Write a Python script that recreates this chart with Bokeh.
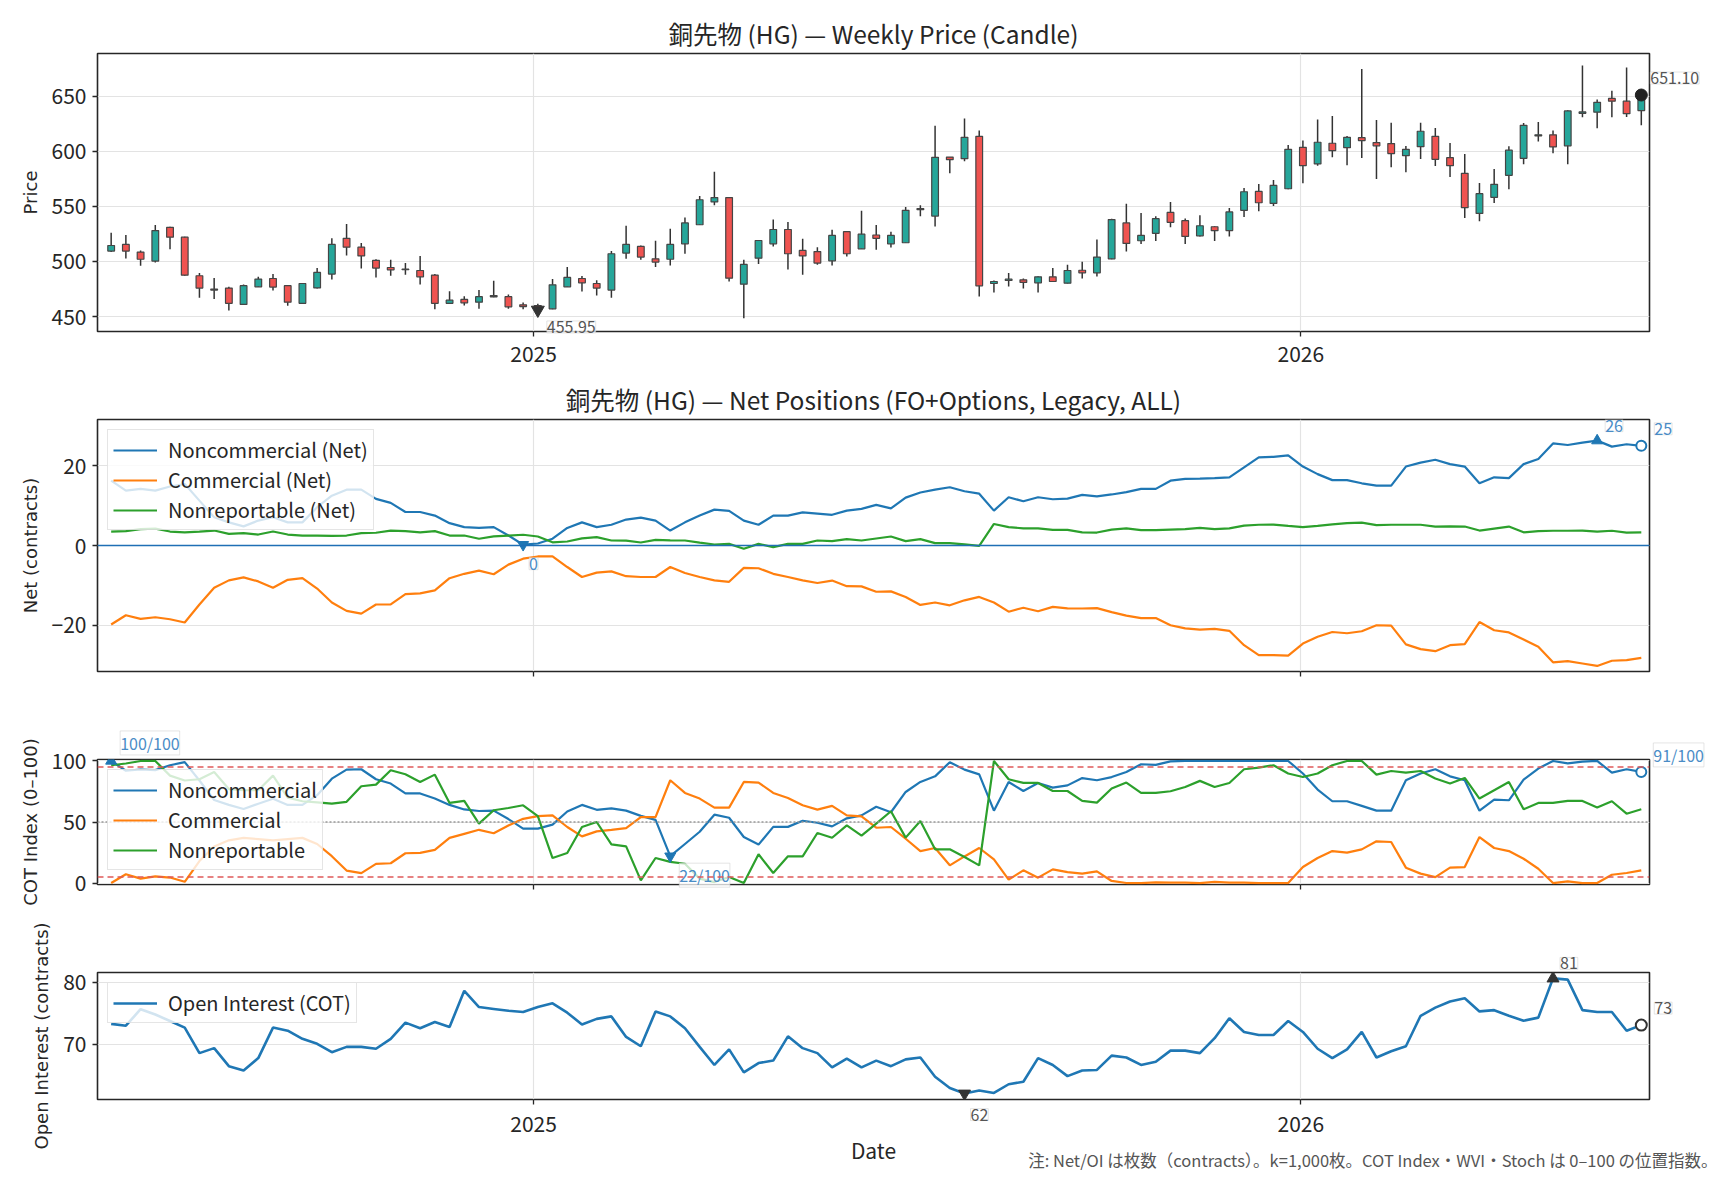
import numpy as np
import pandas as pd
from bokeh.plotting import figure
from bokeh.layouts import column
from bokeh.models import (Range1d, FixedTicker, DatetimeTickFormatter, CustomJSTickFormatter,
                          Span, Label, ColumnDataSource)
from bokeh.embed import file_html
from bokeh.resources import INLINE

# ---------------- data ----------------
start_date = "2024-06-14"   # first weekly bar (Fri)

open_px = [509.4, 515.5, 508.5, 500.3, 531, 522, 487, 475, 475.8, 461,
           477, 484.5, 478, 462, 476, 488.5, 521, 513, 501, 494.5,
           493, 491.8, 487.6, 462, 465.5, 463, 467.9, 468, 460.6, 460,
           457, 477, 484.5, 480, 474, 507.6, 513.6, 502.4, 502, 516,
           533.3, 554, 558, 479.4, 503, 516, 529, 510, 509, 500.6,
           527, 511.5, 524, 516, 517, 548, 541.2, 594.8, 593.3, 613.6,
           480, 482.7, 483.3, 480.6, 486, 480.3, 492, 489.7, 502.4, 535,
           518.8, 525.5, 544.5, 537, 523.3, 531.5, 528, 546.4, 563.6, 552.7,
           566, 603.6, 588.5, 607.3, 603.3, 612.4, 607.9, 607, 596, 604.2,
           613.6, 594.2, 580, 543.6, 558.2, 578.2, 593.6, 614, 615, 605,
           634.5, 635.5, 648, 645.5, 637]
high_px = [526, 524, 510, 533, 531.5, 522.5, 489.4, 485, 477, 479,
           486, 488.5, 478.5, 480.5, 494, 521, 534, 516.7, 502, 501.5,
           498.5, 505, 488.5, 473, 468.5, 474, 482.4, 470, 462.7, 461.5,
           484, 495, 486.7, 483, 509.4, 532.4, 514.5, 518.8, 529.7, 540,
           559.4, 581.5, 558.5, 501.5, 519.5, 538, 535.8, 520.6, 513, 528.8,
           527.5, 546, 533, 527, 549.4, 551, 623.3, 594.8, 629.7, 618.8,
           482.7, 489.4, 484.5, 486.5, 494, 497, 499.7, 520, 538.8, 552.4,
           544, 541, 554, 539, 542, 532, 548.5, 566.7, 570.3, 574,
           605.8, 609.7, 628.8, 632, 614, 674.8, 628.5, 626, 604.8, 626,
           621.2, 607.6, 597.6, 571.2, 584, 604.5, 625.8, 626.7, 618.8, 637.3,
           677.9, 647, 655, 676, 656]
low_px = [508.5, 502.7, 496, 499, 511, 487, 467, 466, 455.5, 461,
          476.7, 473.6, 459.7, 462, 475.5, 483.6, 505.5, 493.6, 485.5, 487,
          488, 479, 456.7, 461.5, 460, 457, 467.5, 457, 456.7, 454.5,
          456.5, 477, 472.7, 469, 467, 502.4, 501.5, 495, 496.4, 507,
          533, 551, 481.8, 448.5, 497.6, 513.6, 492.7, 488, 497, 496.4,
          504.5, 511.5, 510.6, 512.7, 517, 541, 531.8, 580, 591, 468.2,
          471.8, 477.3, 475.5, 471.8, 481.5, 480, 484.5, 486.4, 502, 509,
          515.8, 518.5, 531, 515.8, 522.7, 518.5, 522.7, 540.3, 545.5, 550.3,
          565.5, 571, 587, 594.5, 587.3, 594, 574.8, 585.5, 581, 593,
          586.7, 576.7, 539.4, 536.4, 553, 565.5, 588.2, 609, 598.2, 588.2,
          631, 621, 631, 631.2, 623.6]
close_px = [514.5, 509.4, 502, 528, 522, 487.5, 475.8, 474, 462, 478,
            484, 476.7, 463, 480, 490, 515.5, 513, 505, 494, 492.4,
            492.5, 486, 462, 464.8, 462.4, 468, 469, 458.8, 459, 455.95,
            478.8, 485.5, 480.6, 475.8, 507, 515.5, 504, 499.4, 515.5, 535,
            556, 558, 484.8, 497.3, 519, 529, 507, 505, 498.5, 523.6,
            507, 524.8, 521, 523.6, 546.4, 547, 594.5, 592.4, 612.7, 477.9,
            481.8, 483.9, 481, 486, 481.8, 491.8, 489.7, 504, 538, 516.4,
            523.6, 538.8, 535.5, 522.7, 532.4, 527.9, 545, 563.3, 553.3, 569,
            601.8, 587, 608.2, 600.6, 612.7, 609.7, 605, 597.9, 601.8, 618.2,
            592.7, 587, 548.8, 561.5, 570, 601, 623.6, 615, 604, 636.7,
            635.8, 644.5, 645.5, 634.2, 651.1]

# Net positions (thousand contracts)
net_noncomm = [16.25, 13.75, 14.2, 13.75, 14.8, 15.4, 11.25, 7.1, 5.8, 4.8,
               6.25, 7.1, 5.8, 5.8, 9.6, 12.5, 14, 14, 11.7, 10.7,
               8.4, 8.4, 7.5, 5.6, 4.6, 4.4, 4.6, 2.5, 0.2, 0.5,
               1.7, 4.4, 5.8, 4.6, 5.2, 6.5, 7, 6.25, 3.75, 5.8,
               7.5, 9, 8.7, 6.25, 5.2, 7.5, 7.5, 8.3, 8, 7.7,
               8.75, 9.2, 10.2, 9.3, 12, 13.3, 14, 14.6, 13.6, 13,
               8.75, 12.1, 11.1, 12.1, 11.6, 11.75, 12.7, 12.3, 12.8, 13.4,
               14.2, 14.2, 16.25, 16.7, 16.75, 16.9, 17.1, 19.6, 22.1, 22.25,
               22.6, 19.8, 17.9, 16.4, 16.4, 15.6, 15, 15, 19.8, 20.8,
               21.5, 20.4, 19.8, 15.6, 17.1, 16.9, 20.4, 21.7, 25.6, 25.2,
               25.8, 26.3, 24.8, 25.4, 25]
net_comm = [-19.8, -17.5, -18.4, -18, -18.5, -19.3, -14.8, -10.6, -8.75, -8,
            -9, -10.6, -8.6, -8.2, -10.8, -14.3, -16.4, -17.1, -14.8, -14.75,
            -12.2, -12, -11.25, -8.2, -7.1, -6.3, -7.2, -4.8, -3.3, -2.75,
            -2.7, -5.4, -7.9, -6.8, -6.5, -7.7, -7.9, -7.9, -5.4, -6.9,
            -7.9, -8.75, -9.1, -5.6, -5.7, -7.1, -7.9, -8.75, -9.4, -8.8,
            -10.2, -10.25, -11.6, -11.5, -12.9, -14.9, -14.3, -15, -13.75, -12.9,
            -14.3, -16.6, -15.6, -16.5, -15.4, -15.75, -15.8, -15.7, -16.7, -17.6,
            -18.2, -18.2, -20, -20.8, -21.1, -20.9, -21.4, -25, -27.5, -27.5,
            -27.6, -24.6, -22.9, -21.7, -22, -21.5, -20, -20.1, -24.8, -26,
            -26.5, -25, -24.75, -19.2, -21.25, -21.8, -23.6, -25.4, -29.3, -29,
            -29.6, -30.2, -28.9, -28.75, -28.2]
net_nonrep = [3.5, 3.6, 4.1, 4.25, 3.5, 3.3, 3.5, 3.75, 2.9, 3.1,
              2.75, 3.5, 2.75, 2.5, 2.5, 2.4, 2.5, 3.1, 3.2, 3.75,
              3.6, 3.3, 3.6, 2.5, 2.5, 1.7, 2.3, 2.5, 2.7, 2.25,
              0.8, 1, 1.8, 2.1, 1.25, 1.2, 0.75, 1.4, 1.3, 1.25,
              0.7, 0.25, 0.4, -0.8, 0.4, -0.4, 0.4, 0.4, 1.25, 1.1,
              1.6, 1.25, 1.75, 2.25, 1.1, 1.6, 0.6, 0.6, 0.3, -0.1,
              5.4, 4.6, 4.3, 4.3, 3.9, 3.9, 3.3, 3.25, 4, 4.3,
              3.85, 3.85, 4, 4.1, 4.4, 4.1, 4.3, 5, 5.2, 5.25,
              4.9, 4.6, 4.9, 5.3, 5.6, 5.75, 5.1, 5.2, 5.2, 5.2,
              4.75, 4.8, 4.75, 3.75, 4.25, 4.75, 3.3, 3.6, 3.7, 3.7,
              3.75, 3.5, 3.7, 3.25, 3.3]

# COT Index (0-100)
cot_noncomm = [100, 92, 93, 92.5, 96.5, 99, 84, 68, 64, 60.6,
               65, 69, 64, 64, 72, 85.5, 92.9, 93.2, 85, 81.5,
               73.4, 73.4, 69.2, 64, 60.3, 59, 59.3, 52.4, 44.6, 44.6,
               47.8, 58.6, 64, 60, 61.2, 59.3, 55, 51.7, 22, 32,
               42, 56, 53.5, 37.7, 31.5, 46, 46, 51, 49.4, 46.4,
               53, 55.4, 62.5, 58, 74.6, 82.8, 87.4, 99, 92.9, 89,
               59.3, 82.8, 75.4, 81.9, 78.2, 80, 86, 84.2, 86.8, 91,
               97.3, 96.8, 99.7, 100, 100, 100, 100, 100, 100, 100,
               100, 89.7, 76.6, 67, 67, 63.2, 59.3, 59.3, 84.2, 89.7,
               93.2, 87.4, 84.2, 59.3, 68.4, 67.8, 84.7, 93.8, 100, 98,
               99.5, 100, 90.4, 93.2, 91]
cot_comm = [0, 7.2, 3.6, 5.5, 4.5, 1, 18, 30, 35, 37,
            36, 35, 36, 37, 32, 22, 10.2, 8.1, 15.7, 16.2,
            24.4, 24.7, 27.2, 37, 40.3, 43.6, 40.8, 47.1, 52.6, 54.8,
            55.4, 45.9, 38.2, 42.3, 43.6, 45, 54, 54, 84.2, 73.8,
            69.2, 61.8, 61.8, 82.8, 82.3, 73.8, 69.7, 63.7, 60.1, 63.2,
            55.4, 54.6, 45.3, 45.9, 36.3, 26.2, 28.7, 14.5, 21.8, 28.7,
            19.4, 2.8, 10.4, 4.4, 11.2, 9, 7.7, 9.6, 1.7, 0,
            0, 0.5, 0.3, 0.3, 0, 1, 0.3, 0.3, 0, 0,
            0, 13.1, 20.5, 26.2, 24.9, 27.6, 34.2, 33.6, 12.6, 7.7,
            4.9, 12.6, 13.1, 37.7, 28.7, 26.2, 19.9, 11.7, 0, 1.4,
            0, 0, 6.8, 8.2, 10.4]
cot_nonrep = [96.5, 97.9, 100, 100, 88, 84, 85, 91, 77, 76,
              76, 88, 70, 67, 66, 65, 66.5, 79.3, 80.6, 92.4,
              89.1, 82.8, 88.8, 65.6, 67.3, 48.7, 59.6, 61.5, 63.7, 54.8,
              20.5, 24.6, 45.9, 50, 31.7, 30, 2.2, 20.5, 17.3, 15.8,
              3.6, 0.8, 4.9, 0, 23.6, 8.2, 21.9, 21.9, 41, 37.1,
              47.3, 38.8, 48.7, 58.8, 37.2, 50.8, 27.6, 27.6, 21.3, 14.5,
              100, 85, 82, 82, 75.4, 75.4, 67.3, 65.9, 77.4, 82.3,
              73.8, 73.8, 75.2, 78.7, 83.7, 78.7, 82, 93.2, 94.6, 96.5,
              89.7, 86.9, 89.7, 96.5, 100, 100, 88.8, 91.8, 90.4, 91.8,
              85.6, 81.5, 86.1, 69.2, 76, 82.8, 60.4, 65.6, 65.6, 67.3,
              67.3, 61.8, 67, 56.8, 60.4]

# Open interest (thousand contracts)
open_interest = [73.3, 73, 75.65, 74.8, 73.75, 72.7, 68.6, 69.4, 66.5, 65.8,
                 67.8, 72.7, 72.2, 70.9, 70.1, 68.75, 69.6, 69.6, 69.3, 70.9,
                 73.5, 72.6, 73.6, 72.8, 78.6, 76, 75.7, 75.4, 75.2, 76,
                 76.6, 75.1, 73.2, 74.1, 74.5, 71.2, 69.7, 75.3, 74.5, 72.6,
                 69.6, 66.7, 69.2, 65.5, 67, 67.4, 71.3, 69.4, 68.6, 66.3,
                 67.7, 66.3, 67.4, 66.5, 67.6, 67.9, 64.8, 63, 62.1, 62.6,
                 62.2, 63.6, 64, 67.8, 66.7, 64.9, 65.8, 65.9, 68.2, 67.9,
                 66.7, 67.2, 69, 69, 68.6, 71, 74.2, 72, 71.5, 71.5,
                 73.75, 72, 69.3, 67.8, 69.2, 72, 67.9, 68.9, 69.7, 74.6,
                 75.9, 76.9, 77.4, 75.3, 75.5, 74.6, 73.8, 74.3, 80.6, 80.4,
                 75.5, 75.2, 75.2, 72.2, 73.1]

year_labels = ["2025-01-01", "2026-01-01"]
price_ticks = [450, 500, 550, 600, 650]
net_ticks = [-20, 0, 20]
cot_ticks = [0, 50, 100]
oi_ticks = [70, 80]

title_price = "銅先物 (HG) — Weekly Price (Candle)"
title_net = "銅先物 (HG) — Net Positions (FO+Options, Legacy, ALL)"
note_text = "注: Net/OI は枚数（contracts）。k=1,000枚。COT Index・WVI・Stoch は 0–100 の位置指数。"

# ---------------- helpers ----------------
FONT = "Noto Sans CJK JP"
FONT_LAT = "DejaVu Sans"
DAY = 86400000.0

dates = pd.date_range(start_date, periods=len(close_px), freq="7D")
xms = np.array([d.timestamp() * 1000.0 for d in dates])
year_ticks = [pd.Timestamp(y).timestamp() * 1000.0 for y in year_labels]
X_RANGE = (xms[0] - 6.5 * DAY, xms[-1] + 3.9 * DAY)

C_NC, C_C, C_NR = "#1f77b4", "#ff7f0e", "#2ca02c"
DARK = "#262626"
ANN_BLUE = "#4a8cc6"
ANN_GRAY = "#555555"


def make_fig(frame_h, top, bottom, yr, yticks, ylabel, show_x=False, title=None):
    p = figure(frame_width=1552, frame_height=frame_h,
               x_range=Range1d(*X_RANGE), y_range=Range1d(*yr),
               x_axis_type="datetime", output_backend="svg", toolbar_location=None,
               min_border_left=97, min_border_right=79,
               min_border_top=top, min_border_bottom=bottom,
               background_fill_color="white", border_fill_color="white")
    p.outline_line_color = DARK
    p.outline_line_width = 1.6
    p.outline_line_alpha = 1.0
    for ax in list(p.xaxis) + list(p.yaxis):
        ax.axis_line_color = None
        ax.major_tick_line_color = DARK
        ax.major_tick_line_width = 1.3
        ax.major_tick_out = 5
        ax.major_tick_in = 0
        ax.minor_tick_line_color = None
        ax.major_label_text_font = FONT
        ax.major_label_text_font_size = "21px"
        ax.major_label_text_color = DARK
        ax.major_label_standoff = 6
    p.xaxis.major_label_standoff = 9
    p.yaxis.ticker = FixedTicker(ticks=yticks)
    p.xaxis.ticker = FixedTicker(ticks=year_ticks)
    p.xgrid.ticker = FixedTicker(ticks=year_ticks)
    p.ygrid.ticker = FixedTicker(ticks=yticks)
    p.grid.grid_line_color = "#e3e3e3"
    p.grid.grid_line_width = 1.2
    if show_x:
        p.xaxis.formatter = DatetimeTickFormatter(years="%Y", months="%Y", days="%Y",
                                                  hours="%Y", minutes="%Y", seconds="%Y")
    else:
        p.xaxis.formatter = CustomJSTickFormatter(code="return ''")
        p.xaxis.major_label_text_font_size = "1px"
    p.yaxis.axis_label = ylabel
    p.yaxis.axis_label_text_font = FONT_LAT
    p.yaxis.axis_label_text_font_size = "18px"
    p.yaxis.axis_label_text_font_style = "normal"
    p.yaxis.axis_label_text_color = DARK
    p.yaxis.axis_label_standoff = 8
    if title:
        p.title.text = title
        p.title.align = "center"
        p.title.text_font = FONT
        p.title.text_font_size = "24.5px"
        p.title.text_font_style = "normal"
        p.title.text_color = DARK
        p.title.standoff = 6
    return p


def ann(p, x, y, text, color, dy, dx=9, side=None, size="16px"):
    lab = Label(x=x, y=y, text=text, x_offset=dx, y_offset=dy,
                text_align="left", text_baseline="middle",
                text_font=FONT, text_font_size=size, text_color=color,
                background_fill_color="white", background_fill_alpha=0.75,
                border_line_color="#cccccc", border_line_alpha=0.5)
    if side is None:
        p.add_layout(lab)
    else:
        p.add_layout(lab, side)


def style_legend(p):
    lg = p.legend[0]
    lg.location = "top_left"
    lg.label_text_font = FONT
    lg.label_text_font_size = "20px"
    lg.label_text_color = DARK
    lg.glyph_width = 44
    lg.glyph_height = 22
    lg.label_height = 22
    lg.label_standoff = 11
    lg.spacing = 1
    lg.padding = 5
    lg.margin = 10
    lg.background_fill_alpha = 0.8
    lg.border_line_color = "#cccccc"
    lg.border_line_width = 1.2


# ---------------- panel 1: candles ----------------
o = np.array(open_px); h = np.array(high_px); l = np.array(low_px); c = np.array(close_px)
up = c >= o
p1 = make_fig(278, 53, 40, (436.4, 688.8), price_ticks, "Price", show_x=True, title=title_price)
src_all = ColumnDataSource(dict(x=xms, low=l, high=h))
p1.segment(x0="x", y0="low", x1="x", y1="high", source=src_all, line_color="#333333", line_width=1.5)
src_up = ColumnDataSource(dict(x=xms[up], top=c[up], bottom=o[up]))
src_dn = ColumnDataSource(dict(x=xms[~up], top=o[~up], bottom=c[~up]))
bw = 3.2 * DAY
p1.vbar(x="x", width=bw, top="top", bottom="bottom", source=src_up,
        fill_color="#26a69a", line_color="#454545", line_width=1.2)
p1.vbar(x="x", width=bw, top="top", bottom="bottom", source=src_dn,
        fill_color="#ef5350", line_color="#454545", line_width=1.2)
imin = int(np.argmin(c))
p1.scatter(x=[xms[imin]], y=[c[imin]], marker="inverted_triangle", size=13,
           fill_color="#333333", line_color="#333333")
p1.scatter(x=[xms[-1]], y=[c[-1]], marker="circle", size=12, fill_color="#222222", line_color="#222222")
ann(p1, xms[imin], c[imin], f"{c[imin]:.2f}", ANN_GRAY, -17, side="below")
ann(p1, xms[-1], c[-1], f"{c[-1]:.2f}", ANN_GRAY, 17, side="right")

# ---------------- panel 2: net positions ----------------
nnc = np.array(net_noncomm)
p2 = make_fig(252, 35, 40, (-31.6, 31.6), net_ticks, "Net (contracts)", title=title_net)
p2.add_layout(Span(location=0, dimension="width", line_color="#1f6fb5", line_width=1.5))
p2.line(xms, net_noncomm, line_color=C_NC, line_width=2.2, legend_label="Noncommercial (Net)")
p2.line(xms, net_comm, line_color=C_C, line_width=2.2, legend_label="Commercial (Net)")
p2.line(xms, net_nonrep, line_color=C_NR, line_width=2.2, legend_label="Nonreportable (Net)")
jmin = int(np.argmin(nnc)); jmax = int(np.argmax(nnc))
p2.scatter(x=[xms[jmin]], y=[nnc[jmin]], marker="inverted_triangle", size=11, color=C_NC)
p2.scatter(x=[xms[jmax]], y=[nnc[jmax]], marker="triangle", size=11, color=C_NC)
p2.scatter(x=[xms[-1]], y=[nnc[-1]], marker="circle", size=10, fill_color="white",
           line_color=C_NC, line_width=2)
ann(p2, xms[jmin], nnc[jmin], f"{nnc[jmin]:.0f}", ANN_BLUE, -19, dx=6)
ann(p2, xms[jmax], nnc[jmax], f"{nnc[jmax]:.0f}", ANN_BLUE, 15, dx=8)
ann(p2, xms[-1], nnc[-1], f"{nnc[-1]:.0f}", ANN_BLUE, 17, dx=13, side="right")
style_legend(p2)

# ---------------- panel 3: COT index ----------------
cnc = np.array(cot_noncomm)
p3 = make_fig(125, 48, 25, (-1.2, 101.2), cot_ticks, "COT Index (0–100)")
for lvl in (5, 95):
    p3.add_layout(Span(location=lvl, dimension="width", line_color="#e05a5a",
                       line_width=1.5, line_dash="6 4"))
p3.add_layout(Span(location=50, dimension="width", line_color="#999999",
                   line_width=1.5, line_dash="2 2"))
p3.line(xms, cot_noncomm, line_color=C_NC, line_width=2.2, legend_label="Noncommercial")
p3.line(xms, cot_comm, line_color=C_C, line_width=2.2, legend_label="Commercial")
p3.line(xms, cot_nonrep, line_color=C_NR, line_width=2.2, legend_label="Nonreportable")
kmin = int(np.argmin(cnc)); kmax = int(np.argmax(cnc))
p3.scatter(x=[xms[kmax]], y=[cnc[kmax]], marker="triangle", size=11, color=C_NC)
p3.scatter(x=[xms[kmin]], y=[cnc[kmin]], marker="inverted_triangle", size=11, color=C_NC)
p3.scatter(x=[xms[-1]], y=[cnc[-1]], marker="circle", size=10, fill_color="white",
           line_color=C_NC, line_width=2)
ann(p3, xms[kmax], cnc[kmax], f"{cnc[kmax]:.0f}/100", ANN_BLUE, 18, side="above")
ann(p3, xms[kmin], cnc[kmin], f"{cnc[kmin]:.0f}/100", ANN_BLUE, -19, side="above")
ann(p3, xms[-1], cnc[-1], f"{cnc[-1]:.0f}/100", ANN_BLUE, 17, dx=12, side="right")
style_legend(p3)

# ---------------- panel 4: open interest ----------------
oi = np.array(open_interest)
p4 = make_fig(127, 63, 81, (61.15, 81.55), oi_ticks, "Open Interest (contracts)", show_x=True)
p4.xaxis.major_label_standoff = 11
p4.line(xms, open_interest, line_color=C_NC, line_width=2.6, legend_label="Open Interest (COT)")
mmin = int(np.argmin(oi)); mmax = int(np.argmax(oi))
p4.scatter(x=[xms[mmax]], y=[oi[mmax]], marker="triangle", size=12, color="#333333")
p4.scatter(x=[xms[mmin]], y=[oi[mmin]], marker="inverted_triangle", size=12, color="#333333")
p4.scatter(x=[xms[-1]], y=[oi[-1]], marker="circle", size=11, fill_color="white",
           line_color="#333333", line_width=2)
ann(p4, xms[mmax], oi[mmax], f"{oi[mmax]:.0f}", ANN_GRAY, 15, dx=7, side="above")
ann(p4, xms[mmin], oi[mmin], f"{oi[mmin]:.0f}", ANN_GRAY, -21, dx=6, side="above")
ann(p4, xms[-1], oi[-1], f"{oi[-1]:.0f}", ANN_GRAY, 17, dx=13, side="right")
style_legend(p4)
p4.xaxis.axis_label = "Date"
p4.xaxis.axis_label_text_font = FONT
p4.xaxis.axis_label_text_font_size = "21px"
p4.xaxis.axis_label_text_font_style = "normal"
p4.xaxis.axis_label_text_color = DARK
p4.xaxis.axis_label_standoff = 0
p4.add_layout(Label(x=X_RANGE[1], y=61.15, text=note_text, x_offset=68, y_offset=-60,
                    text_align="right", text_baseline="middle", text_font=FONT,
                    text_font_size="16.5px", text_color="#555555"), "below")

layout = column(p1, p2, p3, p4, spacing=0)
open("out.html", "w").write(file_html(layout, INLINE))
